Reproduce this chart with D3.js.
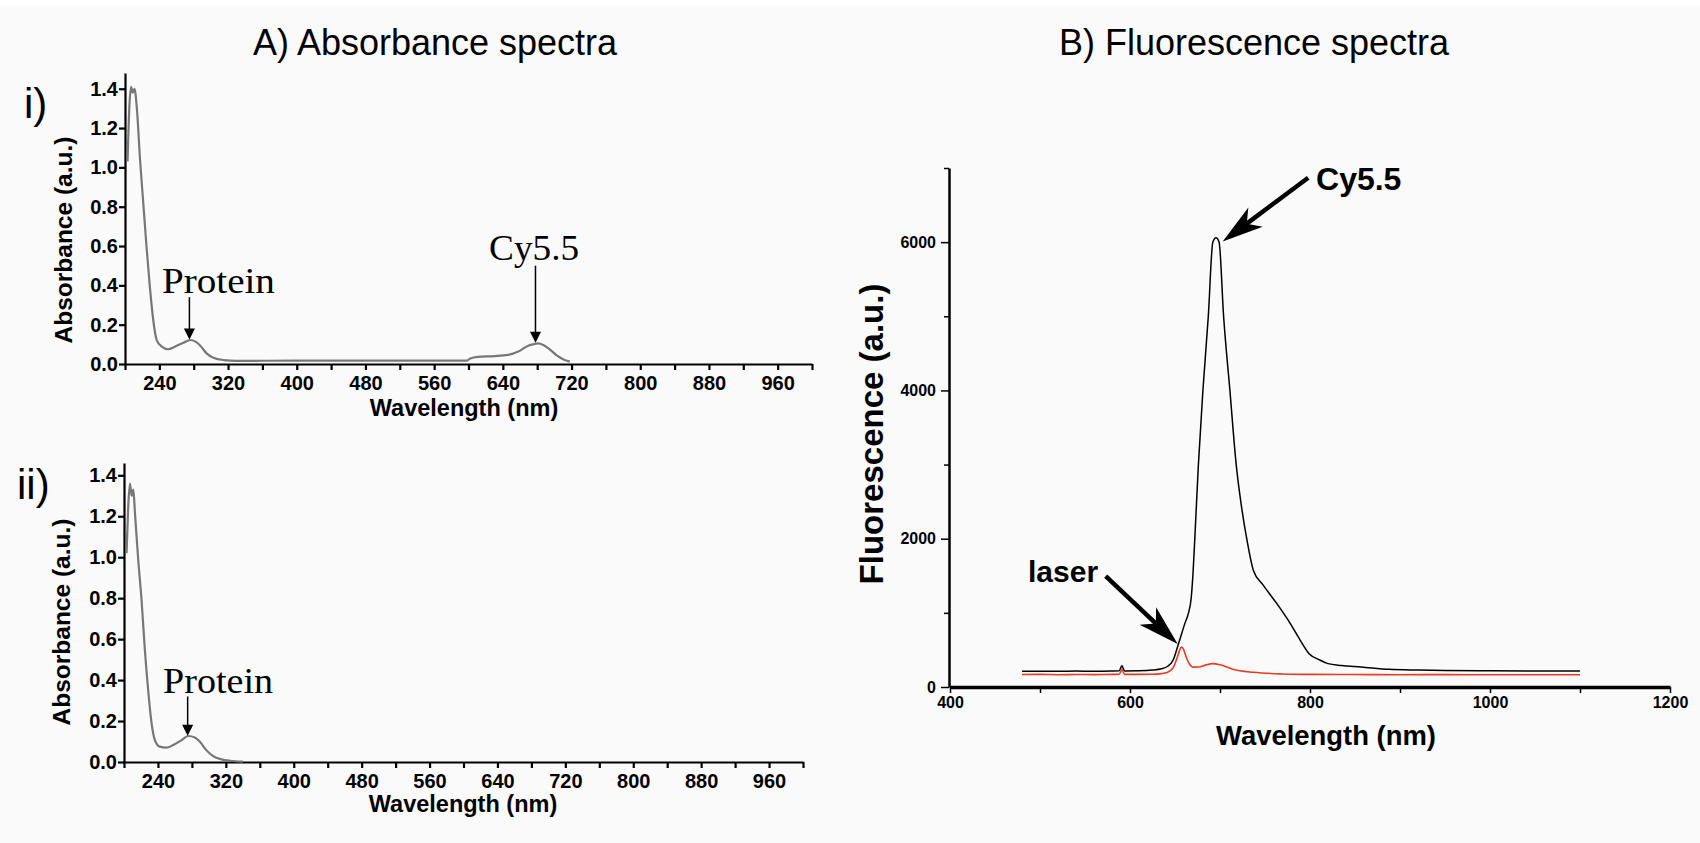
<!DOCTYPE html>
<html>
<head>
<meta charset="utf-8">
<script src="https://cdnjs.cloudflare.com/ajax/libs/d3/7.8.5/d3.min.js"></script>
<style>
body{margin:0;background:#fafafa;}
svg{display:block;font-family:"Liberation Sans",Arial,Helvetica,sans-serif;}
.abs-axis path,.abs-axis line{stroke:#000;stroke-width:2.2;}
.abs-axis text{font-size:20px;font-weight:bold;fill:#000;font-family:"Liberation Sans",Arial,sans-serif;}
.fluo-axis line{stroke:#000;stroke-width:1.5;}
.fluo-axis text{font-size:16px;font-weight:bold;fill:#000;font-family:"Liberation Sans",Arial,sans-serif;}
</style>
</head>
<body>
<svg id="figure" width="1700" height="843"></svg>
<script>
// A i) absorbance of the labelled protein (protein + Cy5.5)
var absWavelengthI = [203, 205, 207, 209, 211, 214, 217.5, 221, 225, 229, 233, 237, 243, 250, 258, 268, 276, 282, 288, 295, 303, 315, 330, 400, 500, 598, 602, 611, 630, 646, 658, 669, 675, 681, 687, 693, 698, 702, 707, 712, 718];
var absValueI = [1.03, 1.30, 1.41, 1.38, 1.40, 1.29, 1.04, 0.835, 0.60, 0.39, 0.22, 0.12, 0.088, 0.075, 0.088, 0.108, 0.122, 0.114, 0.092, 0.054, 0.032, 0.020, 0.016, 0.017, 0.017, 0.017, 0.028, 0.036, 0.040, 0.046, 0.063, 0.092, 0.100, 0.105, 0.097, 0.080, 0.062, 0.046, 0.032, 0.020, 0.012];
// A ii) absorbance of the unlabelled protein
var absWavelengthII = [203, 205, 207, 209, 211, 213, 216.8, 220.7, 224.6, 228.5, 232.5, 236.4, 242, 250, 258, 268, 275.5, 283.5, 289.4, 297, 305, 315, 325, 340];
var absValueII = [1.02, 1.25, 1.36, 1.30, 1.33, 1.21, 0.985, 0.79, 0.546, 0.35, 0.189, 0.107, 0.075, 0.070, 0.083, 0.107, 0.127, 0.120, 0.099, 0.058, 0.029, 0.013, 0.006, 0.002];
var absTicks = [0, 0.2, 0.4, 0.6, 0.8, 1.0, 1.2, 1.4];
var absWavelengthTicks = [200, 240, 280, 320, 360, 400, 440, 480, 520, 560, 600, 640, 680, 720, 760, 800, 840, 880, 920, 960, 1000];
var absWavelengthLabels = [240, 320, 400, 480, 560, 640, 720, 800, 880, 960];
var absNotesI = [
	{text: 'Protein', x: 275, from: 0.34, to: 0.125, labelX: 243, labelY: 0.36, width: 113},
	{text: 'Cy5.5', x: 678, from: 0.50, to: 0.108, labelX: 624, labelY: 0.53, width: 90}
];
var absNotesII = [
	{text: 'Protein', x: 275, from: 0.32, to: 0.128, labelX: 246, labelY: 0.337, width: 110}
];

// B) fluorescence, Cy5.5 conjugate (black) and laser only (red)
var fluoWavelength = [480, 500, 520, 540, 560, 580, 588, 591, 594, 610, 625, 635, 641, 648, 654, 661, 665, 668, 670, 672, 676, 681, 687, 692, 695.6, 699, 704, 711, 718, 724, 730, 737, 748, 763, 778, 789, 799, 810, 820, 835, 857, 888, 920, 950, 1000, 1050, 1100];
var fluoCy55 = [212, 214, 211, 215, 213, 216, 218, 285, 217, 219, 228, 245, 273, 364, 588, 858, 1000, 1200, 1531, 2000, 3000, 4000, 5000, 6000, 6060, 6000, 5000, 4000, 3000, 2424, 1980, 1576, 1374, 1127, 858, 633, 449, 370, 315, 290, 270, 238, 228, 222, 218, 216, 215];
var laserWavelength = [480, 500, 520, 540, 560, 580, 588, 591, 594, 610, 625, 635, 641, 648, 652, 655, 657, 659, 662, 666, 670, 676, 684, 692, 700, 714, 737, 770, 800, 850, 900, 950, 1000, 1050, 1100];
var laserValue = [168, 170, 166, 169, 167, 170, 171, 235, 170, 170, 172, 180, 195, 260, 380, 490, 540, 520, 420, 310, 268, 270, 295, 315, 300, 240, 198, 176, 170, 168, 166, 167, 165, 166, 165];
var fluoTicks = [0, 1000, 2000, 3000, 4000, 5000, 6000, 7000];
var fluoTickLabels = [0, 2000, 4000, 6000];
var fluoWavelengthTicks = [400, 500, 600, 700, 800, 900, 1000, 1100, 1200];
var fluoWavelengthLabels = [400, 600, 800, 1000, 1200];
var fluoNotes = [
	{text: 'Cy5.5', x1: 798, y1: 6869, x2: 703, y2: 6007, labelX: 806.7, labelY: 6707, size: 32},
	{text: 'laser', x1: 573, y1: 1495, x2: 653, y2: 579, labelX: 486.7, labelY: 1414, size: 30}
];

var spectraFigure = {
	width: 1700,
	height: 843,
	initialize: function(){
		var self = this;
		var svg = d3.select('#figure');
		self.svg = svg;
		svg.append('rect')
			.attr('width', self.width)
			.attr('height', self.height)
			.attr('fill', '#fafafa');
		svg.append('rect')
			.attr('width', self.width)
			.attr('height', 6)
			.attr('fill', '#ffffff');
		self._draw_titles();
		self._draw_absorbance({
			tag: 'i)', tagX: 24, tagY: 118,
			left: 125, right: 812, bottom: 364, top: 73, yMax: 1.48,
			yLabelX: 72, yLabelY: 240, xLabelX: 464, xLabelY: 416,
			wavelength: absWavelengthI, value: absValueI, notes: absNotesI
		});
		self._draw_absorbance({
			tag: 'ii)', tagX: 17, tagY: 499,
			left: 124, right: 803, bottom: 762, top: 463, yMax: 1.46,
			yLabelX: 70, yLabelY: 622, xLabelX: 463, xLabelY: 812,
			wavelength: absWavelengthII, value: absValueII, notes: absNotesII
		});
		self._draw_fluorescence();
	},
	_draw_titles: function(){
		var self = this;
		var titles = [['A) Absorbance spectra', 435], ['B) Fluorescence spectra', 1254]];
		self.svg.selectAll('.panel-title')
			.data(titles)
			.enter()
			.append('text')
			.attr('class', 'panel-title')
			.attr('x', function(d){ return d[1]; })
			.attr('y', 55)
			.attr('text-anchor', 'middle')
			.style('font-size', '36px')
			.text(function(d){ return d[0]; });
	},
	_draw_absorbance: function(cfg){
		var self = this;
		var g = self.svg.append('g');
		var x = d3.scaleLinear().domain([200, 1000]).range([cfg.left, cfg.right]);
		var y = d3.scaleLinear().domain([0, cfg.yMax]).range([cfg.bottom, cfg.top]);

		g.append('text')
			.attr('x', cfg.tagX)
			.attr('y', cfg.tagY)
			.style('font-size', '42px')
			.text(cfg.tag);

		var xAxis = d3.axisBottom(x)
			.tickValues(absWavelengthTicks)
			.tickSize(6)
			.tickSizeOuter(0)
			.tickPadding(6)
			.tickFormat(function(d){ return absWavelengthLabels.indexOf(d) >= 0 ? d : ''; });
		g.append('g')
			.attr('class', 'abs-axis')
			.attr('transform', 'translate(0,' + cfg.bottom + ')')
			.call(xAxis);

		var yAxis = d3.axisLeft(y)
			.tickValues(absTicks)
			.tickSize(6)
			.tickSizeOuter(0)
			.tickPadding(1)
			.tickFormat(d3.format('.1f'));
		g.append('g')
			.attr('class', 'abs-axis')
			.attr('transform', 'translate(' + cfg.left + ',0)')
			.call(yAxis);

		g.append('text')
			.attr('transform', 'translate(' + cfg.yLabelX + ',' + cfg.yLabelY + ') rotate(-90)')
			.attr('text-anchor', 'middle')
			.style('font-size', '24.5px')
			.style('font-weight', 'bold')
			.text('Absorbance (a.u.)');
		g.append('text')
			.attr('x', cfg.xLabelX)
			.attr('y', cfg.xLabelY)
			.attr('text-anchor', 'middle')
			.style('font-size', '23.5px')
			.style('font-weight', 'bold')
			.text('Wavelength (nm)');

		var line = d3.line()
			.x(function(d){ return x(d[0]); })
			.y(function(d){ return y(d[1]); })
			.curve(d3.curveMonotoneX);
		var points = cfg.wavelength.map(function(w, i){ return [w, cfg.value[i]]; });
		g.append('path')
			.datum(points)
			.attr('d', line)
			.attr('fill', 'none')
			.attr('stroke', '#777777')
			.attr('stroke-width', 2.2);

		// thin arrows with serif labels
		var notes = g.selectAll('.abs-note')
			.data(cfg.notes)
			.enter()
			.append('g')
			.attr('class', 'abs-note');
		notes.append('line')
			.attr('x1', function(d){ return x(d.x); })
			.attr('x2', function(d){ return x(d.x); })
			.attr('y1', function(d){ return y(d.from); })
			.attr('y2', function(d){ return y(d.to) - 6; })
			.attr('stroke', '#000')
			.attr('stroke-width', 1.5);
		notes.append('path')
			.attr('d', 'M0,0L-5.5,-11L5.5,-11Z')
			.attr('transform', function(d){ return 'translate(' + x(d.x) + ',' + y(d.to) + ')'; })
			.attr('fill', '#000');
		notes.append('text')
			.attr('x', function(d){ return x(d.labelX); })
			.attr('y', function(d){ return y(d.labelY); })
			.attr('textLength', function(d){ return d.width; })
			.attr('lengthAdjust', 'spacingAndGlyphs')
			.style('font-family', '"Liberation Serif","Times New Roman",serif')
			.style('font-size', '35px')
			.text(function(d){ return d.text; });
	},
	_draw_fluorescence: function(){
		var self = this;
		var g = self.svg.append('g');
		var x = d3.scaleLinear().domain([400, 1200]).range([950, 1670]);
		var y = d3.scaleLinear().domain([0, 7000]).range([687, 168]);

		var xAxis = d3.axisBottom(x)
			.tickValues(fluoWavelengthTicks)
			.tickSize(6)
			.tickSizeOuter(0)
			.tickPadding(4)
			.tickFormat(function(d){ return fluoWavelengthLabels.indexOf(d) >= 0 ? d : ''; });
		var xg = g.append('g')
			.attr('class', 'fluo-axis')
			.attr('transform', 'translate(0,687)')
			.call(xAxis);
		xg.select('.domain').attr('stroke', '#000').attr('stroke-width', 3.5);

		var yAxis = d3.axisLeft(y)
			.tickValues(fluoTicks)
			.tickSize(8)
			.tickSizeOuter(0)
			.tickPadding(5)
			.tickFormat(function(d){ return fluoTickLabels.indexOf(d) >= 0 ? d : ''; });
		var yg = g.append('g')
			.attr('class', 'fluo-axis')
			.attr('transform', 'translate(949,0)')
			.call(yAxis);
		yg.select('.domain').attr('stroke', '#000').attr('stroke-width', 2.5);
		yg.selectAll('.tick line')
			.attr('x2', function(d){ return fluoTickLabels.indexOf(d) >= 0 ? -8 : -5; });

		g.append('text')
			.attr('transform', 'translate(883,434) rotate(-90)')
			.attr('text-anchor', 'middle')
			.style('font-size', '33px')
			.style('font-weight', 'bold')
			.text('Fluorescence (a.u.)');
		g.append('text')
			.attr('x', 1326)
			.attr('y', 745)
			.attr('text-anchor', 'middle')
			.attr('textLength', 220)
			.attr('lengthAdjust', 'spacingAndGlyphs')
			.style('font-size', '27px')
			.style('font-weight', 'bold')
			.text('Wavelength (nm)');

		var line = d3.line()
			.x(function(d){ return x(d[0]); })
			.y(function(d){ return y(d[1]); })
			.curve(d3.curveMonotoneX);
		var laserPoints = laserWavelength.map(function(w, i){ return [w, laserValue[i]]; });
		var cyPoints = fluoWavelength.map(function(w, i){ return [w, fluoCy55[i]]; });
		g.append('path')
			.datum(cyPoints)
			.attr('d', line)
			.attr('fill', 'none')
			.attr('stroke', '#000')
			.attr('stroke-width', 1.5);
		g.append('path')
			.datum(laserPoints)
			.attr('d', line)
			.attr('fill', 'none')
			.attr('stroke', '#ea3a22')
			.attr('stroke-width', 1.6);

		// bold barbed arrows
		var notes = g.selectAll('.fluo-note')
			.data(fluoNotes)
			.enter()
			.append('g')
			.attr('class', 'fluo-note');
		notes.each(function(d){
			var node = d3.select(this);
			var sx = x(d.x1), sy = y(d.y1), tx = x(d.x2), ty = y(d.y2);
			var angle = Math.atan2(ty - sy, tx - sx);
			var len = Math.sqrt((tx - sx) * (tx - sx) + (ty - sy) * (ty - sy));
			node.append('line')
				.attr('x1', sx)
				.attr('y1', sy)
				.attr('x2', sx + Math.cos(angle) * (len - 28))
				.attr('y2', sy + Math.sin(angle) * (len - 28))
				.attr('stroke', '#000')
				.attr('stroke-width', 4.5);
			node.append('path')
				.attr('d', 'M0,0L-41,-12L-30,0L-41,12Z')
				.attr('transform', 'translate(' + tx + ',' + ty + ') rotate(' + (angle * 180 / Math.PI) + ')')
				.attr('fill', '#000');
			node.append('text')
				.attr('x', x(d.labelX))
				.attr('y', y(d.labelY))
				.style('font-size', d.size + 'px')
				.style('font-weight', 'bold')
				.text(d.text);
		});
	}
};
spectraFigure.initialize();
</script>
</body>
</html>
